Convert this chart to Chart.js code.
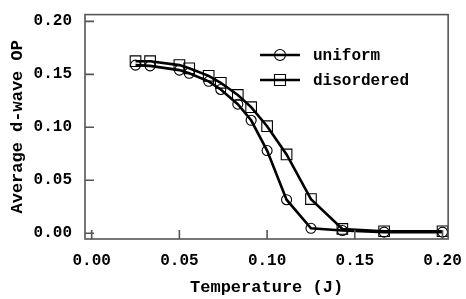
<!DOCTYPE html>
<html>
<head>
<meta charset="utf-8">
<script src="https://cdn.jsdelivr.net/npm/chart.js@4/dist/chart.umd.min.js"></script>
<style>
html,body{margin:0;padding:0;background:#fff;}
#wrap{width:466px;height:299px;position:relative;}
</style>
</head>
<body>
<div id="wrap"><canvas id="c" width="466" height="299"></canvas></div>
<script>
// Data
const temperatures = [0.025, 0.0333, 0.05, 0.0556, 0.0667, 0.0736, 0.0833, 0.0909, 0.1, 0.1111, 0.125, 0.1429, 0.1667, 0.2];
const uniformOP    = [0.1587, 0.158, 0.154, 0.151, 0.1434, 0.1357, 0.1218, 0.1066, 0.078, 0.0316, 0.0046, 0.0025, 0.001, 0.001];
const disorderedOP = [0.1624, 0.1624, 0.1587, 0.1557, 0.1486, 0.142, 0.1305, 0.119, 0.101, 0.0744, 0.0322, 0.004, 0.0018, 0.0018];
const seriesNames = ['uniform', 'disordered'];
const xTicks = [0.00, 0.05, 0.10, 0.15, 0.20];
const yTicks = [0.00, 0.05, 0.10, 0.15, 0.20];
const xTitle = 'Temperature (J)';
const yTitle = 'Average d-wave OP';

const FONT = '"Liberation Mono", "DejaVu Sans Mono", monospace';
const FRAME = '#555555';

function toPoints(xs, ys){ return xs.map((x,i)=>({x:x, y:ys[i]})); }

const framePlugin = {
  id: 'frameTicks',
  afterDraw(chart){
    const ctx = chart.ctx;
    const a = chart.chartArea;
    const xs = chart.scales.x, ys = chart.scales.y;
    ctx.save();
    ctx.strokeStyle = FRAME;
    ctx.lineWidth = 1.6;
    ctx.strokeRect(a.left, a.top, a.right - a.left, a.bottom - a.top);
    ctx.beginPath();
    xTicks.forEach(v=>{
      const p = xs.getPixelForValue(v);
      ctx.moveTo(p, a.bottom); ctx.lineTo(p, a.bottom - 9);
    });
    yTicks.forEach(v=>{
      const p = ys.getPixelForValue(v);
      ctx.moveTo(a.left, p); ctx.lineTo(a.left + 9, p);
    });
    ctx.stroke();

    // Legend
    const rows = [{y:55, style:'circle'}, {y:80, style:'rect'}];
    ctx.font = 'bold 16px ' + FONT;
    ctx.textBaseline = 'middle';
    ctx.textAlign = 'left';
    rows.forEach((r,i)=>{
      ctx.strokeStyle = '#000';
      ctx.lineWidth = 2.5;
      ctx.beginPath(); ctx.moveTo(260, r.y); ctx.lineTo(300, r.y); ctx.stroke();
      ctx.lineWidth = 1.1;
      ctx.beginPath();
      if (r.style === 'circle') { ctx.arc(280, r.y, 5.5, 0, Math.PI*2); }
      else { ctx.rect(274.5, r.y - 5.5, 11, 11); }
      ctx.stroke();
      ctx.fillStyle = '#000';
      ctx.fillText(seriesNames[i], 313, r.y + 1);
    });
    ctx.restore();
  }
};

new Chart(document.getElementById('c'), {
  type: 'scatter',
  data: {
    datasets: [
      {
        label: seriesNames[0],
        data: toPoints(temperatures, uniformOP),
        showLine: true,
        borderColor: '#000',
        borderWidth: 2.6,
        tension: 0,
        pointStyle: 'circle',
        pointRadius: 5,
        pointBorderWidth: 1.1,
        pointBorderColor: '#000',
        pointBackgroundColor: 'rgba(0,0,0,0)'
      },
      {
        label: seriesNames[1],
        data: toPoints(temperatures, disorderedOP),
        showLine: true,
        borderColor: '#000',
        borderWidth: 2.6,
        tension: 0,
        pointStyle: 'rect',
        pointRadius: 7.5,
        pointBorderWidth: 1.1,
        pointBorderColor: '#000',
        pointBackgroundColor: 'rgba(0,0,0,0)'
      }
    ]
  },
  options: {
    responsive: false,
    animation: false,
    devicePixelRatio: 1,
    layout: { padding: { left: 0, right: 17, top: 8, bottom: 0 } },
    plugins: { legend: { display: false }, tooltip: { enabled: false } },
    scales: {
      x: {
        type: 'linear',
        min: -0.0038, max: 0.2032,
        afterFit(s){ s.height = 60; },
        afterBuildTicks(s){ s.ticks = xTicks.map(v=>({value:v})); },
        grid: { display: false },
        border: { display: false },
        ticks: {
          color: '#000',
          padding: 4,
          font: { family: FONT, size: 16, weight: 'bold' },
          callback: v => v.toFixed(2)
        },
        title: {
          display: true, text: xTitle, color: '#000',
          font: { family: FONT, size: 17, weight: 'bold' },
          padding: { top: 0, bottom: 1 }
        }
      },
      y: {
        type: 'linear',
        min: -0.0055, max: 0.2064,
        afterFit(s){ s.width = 85; },
        afterBuildTicks(s){ s.ticks = yTicks.map(v=>({value:v})); },
        grid: { display: false },
        border: { display: false },
        ticks: {
          color: '#000',
          padding: 5,
          font: { family: FONT, size: 16, weight: 'bold' },
          callback: v => v.toFixed(2)
        },
        title: {
          display: true, text: yTitle, color: '#000',
          font: { family: FONT, size: 17, weight: 'bold' },
          padding: { top: 8, bottom: 0 }
        }
      }
    }
  },
  plugins: [framePlugin]
});
</script>
</body>
</html>
